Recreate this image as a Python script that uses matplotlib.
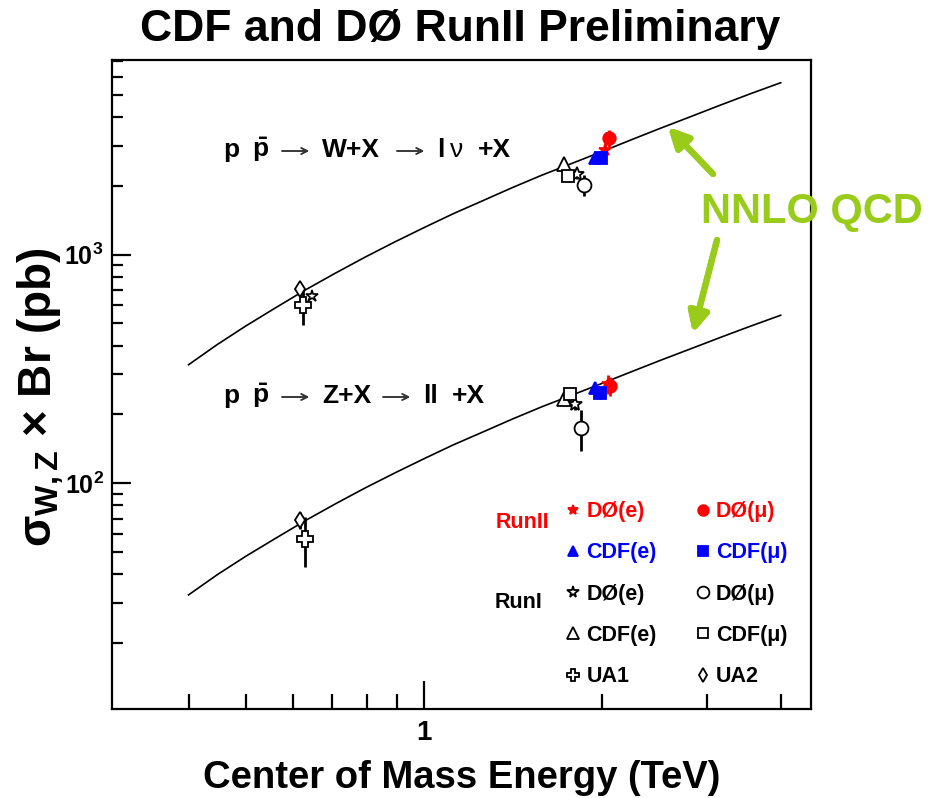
"""Redraw the CDF/D0 Run II W and Z cross-section summary plot."""

import matplotlib
matplotlib.use("Agg")
import matplotlib.pyplot as plt
from matplotlib.ticker import FixedLocator, NullFormatter, FixedFormatter

plt.rcParams.update({
    "font.family": ["Liberation Sans", "DejaVu Sans"],
    "font.weight": "bold",
    "axes.labelweight": "bold",
    "mathtext.fontset": "custom",
    "mathtext.rm": "Liberation Sans",
    "mathtext.bf": "Liberation Sans:bold",
    "mathtext.it": "Liberation Sans:italic",
    "mathtext.default": "bf",
})

W, H = 944, 798
GREEN = "#99CC1A"
RED = "#FF0000"
BLUE = "#0000FF"

# NNLO QCD theory curves (TeV, pb)
energy = [0.4, 0.447, 0.5, 0.562, 0.63, 0.708, 0.794, 0.891, 1.0, 1.12, 1.26,
          1.41, 1.58, 1.78, 2.0, 2.24, 2.51, 2.82, 3.16, 3.55, 4.0]
sigma_w = [330, 404, 488, 587, 701, 830, 974, 1135, 1314, 1511, 1728,
           1966, 2226, 2512, 2828, 3183, 3577, 4016, 4503, 5047, 5649]
sigma_z = [32.5, 39.8, 48.0, 57.6, 68.7, 81.3, 95.3, 110.8, 128.2, 147.3, 168.2,
           191.1, 216.1, 243.6, 273.9, 307.8, 345.6, 387.6, 434.0, 485.8, 543.2]

# measurements: first entry W, second entry Z
d0e_run2_x = [2.02, 2.04]
d0e_run2_y = [2880, 272]
d0e_run2_err = [200, 25]
d0mu_run2_x = [2.05, 2.06]
d0mu_run2_y = [3230, 266]
d0mu_run2_err = [280, 25]
cdfe_run2_x = [1.94, 1.94]
cdfe_run2_y = [2640, 261]
cdfe_run2_err = [120, 15]
cdfmu_run2_x = [1.99, 1.98]
cdfmu_run2_y = [2640, 248]
cdfmu_run2_err = [120, 15]
d0e_run1_x = [1.81, 1.80]
d0e_run1_y = [2260, 222]
d0e_run1_err = [110, 12]
d0mu_run1_x = [1.86, 1.84]
d0mu_run1_y = [2020, 174]
d0mu_run1_err = [220, 36]
cdfe_run1_x = [1.72, 1.72]
cdfe_run1_y = [2490, 234]
cdfe_run1_err = [110, 12]
cdfmu_run1_x = [1.75, 1.76]
cdfmu_run1_y = [2210, 246]
cdfmu_run1_err = [130, 14]
ua1_x = [0.625, 0.63]
ua1_y = [600, 57]
ua1_err = [110, 14]
ua1_extra_x = [0.647]
ua1_extra_y = [660]
ua2_x = [0.617, 0.617]
ua2_y = [705, 69]
ua2_err = [40, 6]

fig = plt.figure(figsize=(W / 100, H / 100), dpi=100)
ax = fig.add_axes([0.1186, 0.1115, 0.7405, 0.8133])
ax.set_xscale("log")
ax.set_yscale("log")
ax.set_xlim(0.297, 4.5)
ax.set_ylim(10.3, 7100)

ax.plot(energy, sigma_w, color="black", lw=1.2)
ax.plot(energy, sigma_z, color="black", lw=1.2)

series = [
    (d0e_run2_x, d0e_run2_y, d0e_run2_err, "*", RED, RED, 9, "DØ(e)"),
    (cdfe_run2_x, cdfe_run2_y, cdfe_run2_err, "^", BLUE, BLUE, 9, "CDF(e)"),
    (d0e_run1_x, d0e_run1_y, d0e_run1_err, "*", "white", "black", 10, "DØ(e)"),
    (cdfe_run1_x, cdfe_run1_y, cdfe_run1_err, "^", "white", "black", 10, "CDF(e)"),
    (ua1_x, ua1_y, ua1_err, "P", "white", "black", 11, "UA1"),
    (d0mu_run2_x, d0mu_run2_y, d0mu_run2_err, "o", RED, RED, 9, "DØ(μ)"),
    (cdfmu_run2_x, cdfmu_run2_y, cdfmu_run2_err, "s", BLUE, BLUE, 8, "CDF(μ)"),
    (d0mu_run1_x, d0mu_run1_y, d0mu_run1_err, "o", "white", "black", 10, "DØ(μ)"),
    (cdfmu_run1_x, cdfmu_run1_y, cdfmu_run1_err, "s", "white", "black", 9, "CDF(μ)"),
    (ua2_x, ua2_y, ua2_err, "d", "white", "black", 8, "UA2"),
]
handles = []
label_colors = []
for x, y, err, marker, face, edge, size, label in series:
    ax.errorbar(x, y, yerr=err, fmt="none", ecolor=edge, elinewidth=2.0, capsize=0, zorder=3)
    (h,) = ax.plot(x, y, ls="none", marker=marker, ms=size, mfc=face, mec=edge, mew=1.3,
                   label=label, zorder=4)
    handles.append(h)
    label_colors.append(edge)
ax.plot(ua1_extra_x, ua1_extra_y, ls="none", marker="*", ms=9, mfc="white", mec="black",
        mew=1.2, zorder=4)

# axes styling
for side in ("left", "bottom", "top", "right"):
    ax.spines[side].set_linewidth(1.6)
ax.tick_params(which="both", direction="in", top=False, right=False, width=1.6)
ax.tick_params(which="major", length=14, labelsize=18, pad=6)
ax.tick_params(which="minor", length=8)
ax.tick_params(axis="x", which="major", length=20, labelsize=20, pad=8)
ax.tick_params(axis="x", which="minor", length=11)
ax.xaxis.set_major_locator(FixedLocator([1]))
ax.xaxis.set_major_formatter(FixedFormatter(["1"]))
ax.xaxis.set_minor_locator(FixedLocator([0.4, 0.5, 0.6, 0.7, 0.8, 0.9, 2, 3, 4]))
ax.xaxis.set_minor_formatter(NullFormatter())
ax.yaxis.set_major_locator(FixedLocator([100, 1000]))
ax.yaxis.set_major_formatter(FixedFormatter([r"$10^{2}$", r"$10^{3}$"]))
ax.yaxis.set_minor_locator(FixedLocator([20, 30, 40, 50, 60, 70, 80, 90,
                                         200, 300, 400, 500, 600, 700, 800, 900,
                                         2000, 3000, 4000, 5000, 6000, 7000]))
ax.yaxis.set_minor_formatter(NullFormatter())

ax.set_xlabel("Center of Mass Energy (TeV)", fontsize=27.5, labelpad=10)
ax.set_ylabel(r"$\mathrm{σ}_{\mathbf{W,Z}}$ $\mathrm{\times}$ Br (pb)", fontsize=33)
ax.yaxis.set_label_coords(-0.066, 0.48)

fig.text(0.487, 1 - 30 / H, "CDF and DØ RunII Preliminary", ha="center", va="center",
         fontsize=32, fontweight="bold")


def reaction(pieces, arrows, baseline):
    # pieces: (left pixel, text, weight); arrows: (start pixel, end pixel)
    for x_px, s, weight in pieces:
        fig.text(x_px / W, 1 - baseline / H, s, fontsize=19, fontweight=weight,
                 va="baseline", ha="left")
    y_arrow = 1 - (baseline - 6) / H
    for x0, x1 in arrows:
        fig.add_artist(plt.annotate(
            "", xy=(x1 / W, y_arrow), xycoords="figure fraction",
            xytext=(x0 / W, y_arrow), textcoords="figure fraction",
            arrowprops=dict(arrowstyle="->", color="#333333", lw=1.1,
                            mutation_scale=11, shrinkA=0, shrinkB=0)))


reaction([(223, "p", "bold"), (252, r"$\bar{\mathbf{p}}$", "bold"),
          (322, "W+X", "bold"), (437, "l", "bold"),
          (450, "ν", "normal"), (478, "+X", "bold")],
         [(282, 309), (397, 424)], 157)
reaction([(223, "p", "bold"), (252, r"$\bar{\mathbf{p}}$", "bold"),
          (322, "Z+X", "bold"), (423, "ll", "bold"), (452, "+X", "bold")],
         [(282, 309), (383, 410)], 403)

fig.text(812 / W, 1 - 212 / H, "NNLO QCD", color=GREEN, fontsize=30, fontweight="bold",
         ha="center", va="center")
arrow = dict(arrowstyle="-|>", color=GREEN, lw=4.5, mutation_scale=30, shrinkA=0, shrinkB=0)
fig.add_artist(plt.annotate("", xy=(668 / W, 1 - 127 / H), xycoords="figure fraction",
                            xytext=(713 / W, 1 - 174 / H), textcoords="figure fraction",
                            arrowprops=arrow))
fig.add_artist(plt.annotate("", xy=(693 / W, 1 - 333 / H), xycoords="figure fraction",
                            xytext=(717 / W, 1 - 240 / H), textcoords="figure fraction",
                            arrowprops=arrow))

leg = ax.legend(handles=handles, ncol=2, loc="upper left", bbox_to_anchor=(0.620, 0.350),
                frameon=False, fontsize=15.5, labelcolor=label_colors, handlelength=0.8,
                handletextpad=0.2, columnspacing=1.75, labelspacing=0.94, markerscale=0.85,
                borderpad=0.4)

fig.text(522 / W, 1 - 522 / H, "RunII", color=RED, fontsize=15.5, ha="center", va="center")
fig.text(519 / W, 1 - 603 / H, "RunI", color="black", fontsize=15.5, ha="center", va="center")

fig.savefig("out.png", dpi=100, facecolor="white")
